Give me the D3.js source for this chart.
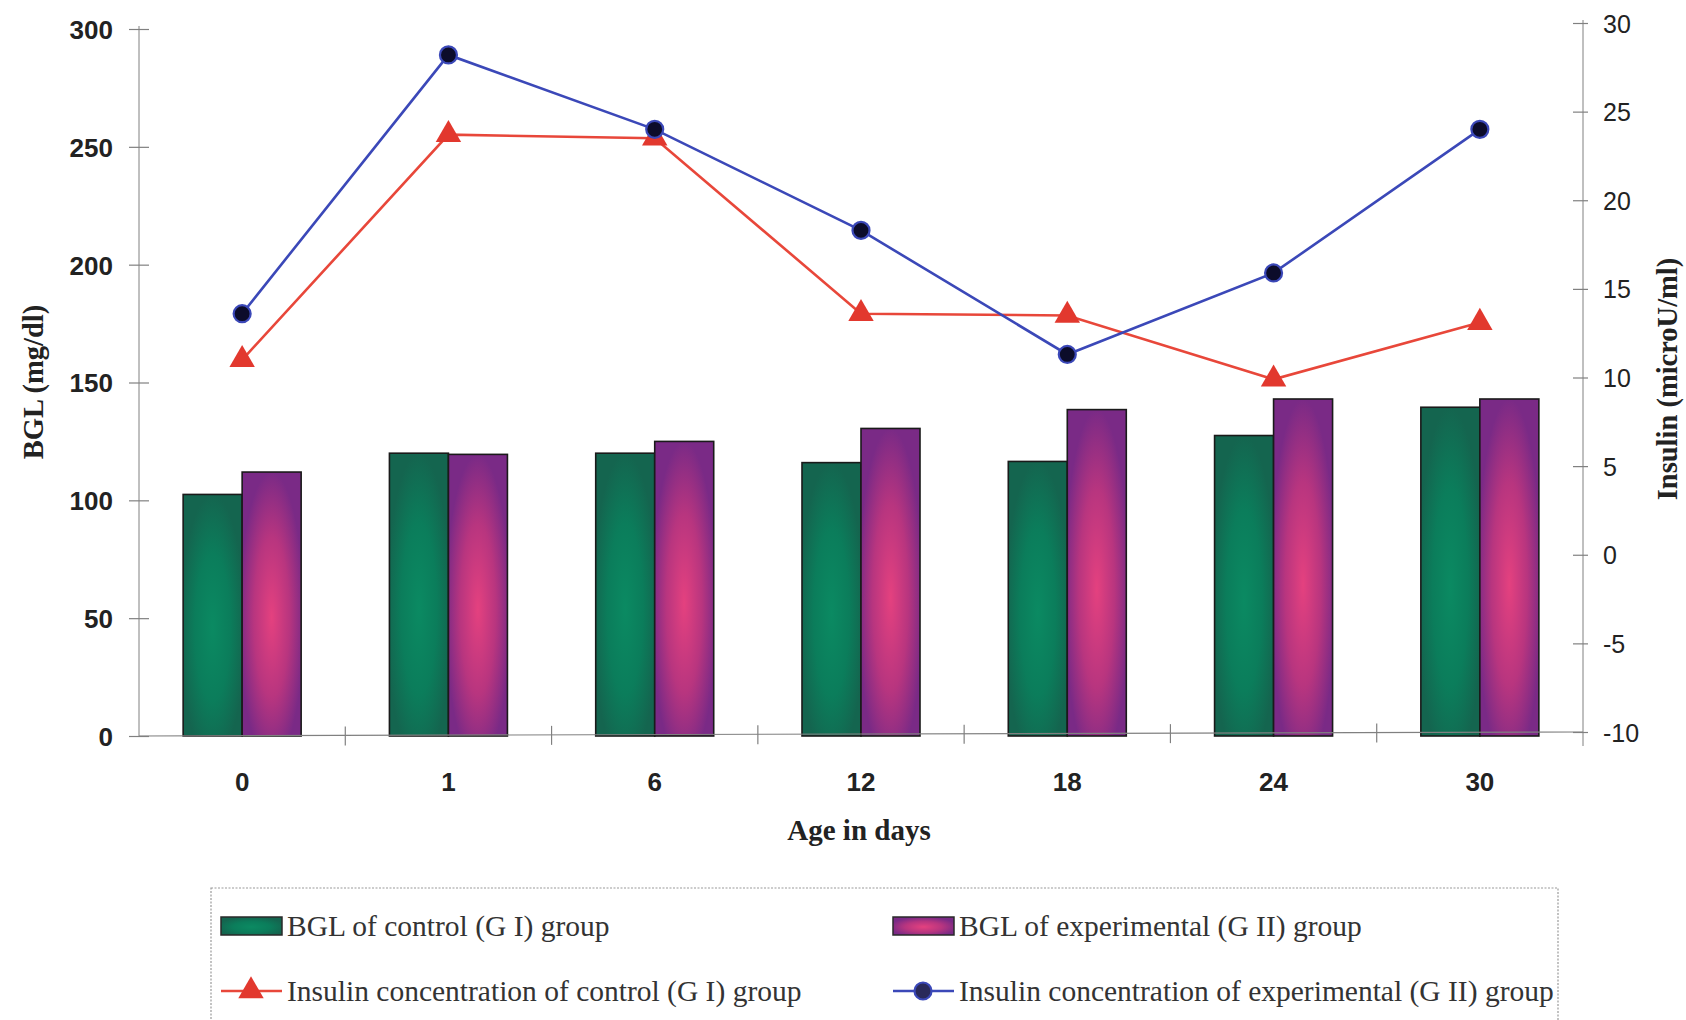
<!DOCTYPE html>
<html>
<head>
<meta charset="utf-8">
<script src="https://cdn.jsdelivr.net/npm/d3@7"></script>
<style>
  html, body { margin: 0; padding: 0; background: #ffffff; }
  svg { display: block; }
</style>
</head>
<body>
<script>
// ---- data ----
const categories = ["0", "1", "6", "12", "18", "24", "30"];
const bglControl = [102.5, 120, 120, 116, 116.5, 127.5, 139.5];
const bglExperimental = [112, 119.5, 125, 130.5, 138.5, 143, 143];
const insulinControl = [11, 23.7, 23.5, 13.6, 13.5, 9.9, 13.1];
const insulinExperimental = [13.6, 28.2, 24, 18.3, 11.3, 15.9, 24];
const leftTicks = [0, 50, 100, 150, 200, 250, 300];
const rightTicks = [-10, -5, 0, 5, 10, 15, 20, 25, 30];
const legendLabels = [
  "BGL of control (G I) group",
  "BGL of experimental (G II) group",
  "Insulin concentration of control (G I) group",
  "Insulin concentration of experimental (G II) group"
];

const W = 1686, H = 1020;
const xL = 139, xR = 1583, yB = 736, yT = 29, yBR = 732, yTR = 23;

const svg = d3.select("body").append("svg").attr("width", W).attr("height", H);

const defs = svg.append("defs");
function radial(id, inner, mid, outer) {
  const g = defs.append("radialGradient").attr("id", id)
    .attr("cx", 0.5).attr("cy", 0.55).attr("r", 0.55);
  g.append("stop").attr("offset", "0%").attr("stop-color", inner);
  g.append("stop").attr("offset", "55%").attr("stop-color", mid);
  g.append("stop").attr("offset", "100%").attr("stop-color", outer);
}
radial("gGreen", "#0b8a62", "#0b7d5b", "#14654f");
radial("gMag", "#e4417f", "#b8357f", "#7a2a86");

const x = d3.scaleBand().domain(categories).range([xL, xR]).padding(0);
const inner = d3.scaleBand().domain(["c", "e"]).range([x.bandwidth() / 2 - 59, x.bandwidth() / 2 + 59]).padding(0);
const yLeft = d3.scaleLinear().domain([0, 300]).range([yB, yT]);
const yRight = d3.scaleLinear().domain([-10, 30]).range([yBR, yTR]);

const axisColor = "#808080";

// bars
const groups = svg.append("g").selectAll("g").data(categories).join("g")
  .attr("transform", d => `translate(${x(d)},0)`);
groups.append("rect")
  .attr("x", inner("c")).attr("width", inner.bandwidth())
  .attr("y", (d, i) => yLeft(bglControl[i]))
  .attr("height", (d, i) => yLeft(0) - yLeft(bglControl[i]))
  .attr("fill", "url(#gGreen)").attr("stroke", "#1a1a1a").attr("stroke-width", 1.6);
groups.append("rect")
  .attr("x", inner("e")).attr("width", inner.bandwidth())
  .attr("y", (d, i) => yLeft(bglExperimental[i]))
  .attr("height", (d, i) => yLeft(0) - yLeft(bglExperimental[i]))
  .attr("fill", "url(#gMag)").attr("stroke", "#1a1a1a").attr("stroke-width", 1.6);

// left axis
const axL = svg.append("g").attr("transform", `translate(${xL},0)`)
  .call(d3.axisLeft(yLeft).tickValues(leftTicks).tickSize(10).tickPadding(16).tickFormat(d => String(d)));
axL.selectAll(".tick line").attr("x2", 10).attr("x1", -10);
axL.select(".domain").attr("stroke", axisColor).attr("d", `M0,${yT - 3}V${yB}`);
axL.selectAll("line").attr("stroke", axisColor).attr("stroke-width", 1.2);
axL.selectAll("text").attr("font-family", "'Liberation Sans', Arial, sans-serif")
  .attr("font-size", 26).attr("font-weight", "bold").attr("fill", "#222")
  .attr("x", -26).attr("dy", "0.36em");

// right axis
const axR = svg.append("g").attr("transform", `translate(${xR},0)`)
  .call(d3.axisRight(yRight).tickValues(rightTicks).tickSize(6).tickPadding(16).tickFormat(d => String(d)));
axR.selectAll(".tick line").attr("x1", -10).attr("x2", 5);
axR.select(".domain").attr("stroke", axisColor).attr("d", `M0,${yTR - 3}V${yBR + 14}`);
axR.selectAll("line").attr("stroke", axisColor).attr("stroke-width", 1.2);
axR.selectAll("text").attr("font-family", "'Liberation Sans', Arial, sans-serif")
  .attr("font-size", 25).attr("fill", "#222").attr("x", 20).attr("dy", "0.36em");

// x axis
svg.append("line").attr("x1", xL).attr("x2", xR).attr("y1", yB).attr("y2", yBR)
  .attr("stroke", axisColor).attr("stroke-width", 1.2);
const xAt = v => yB + (yBR - yB) * (v - xL) / (xR - xL);
svg.append("g").selectAll("line").data(categories.slice(1)).join("line")
  .attr("x1", d => x(d)).attr("x2", d => x(d))
  .attr("y1", d => xAt(x(d)) - 9).attr("y2", d => xAt(x(d)) + 10)
  .attr("stroke", axisColor).attr("stroke-width", 1.2);
svg.append("g").selectAll("text").data(categories).join("text")
  .attr("x", d => x(d) + x.bandwidth() / 2).attr("y", 791)
  .attr("text-anchor", "middle")
  .attr("font-family", "'Liberation Sans', Arial, sans-serif")
  .attr("font-size", 26).attr("font-weight", "bold").attr("fill", "#222")
  .text(d => d);

// axis titles
svg.append("text").attr("transform", `translate(43,382) rotate(-90)`)
  .attr("text-anchor", "middle")
  .attr("font-family", "'Liberation Serif', 'Times New Roman', serif")
  .attr("font-size", 28.5).attr("font-weight", "bold").attr("fill", "#222")
  .text("BGL (mg/dl)");
svg.append("text").attr("transform", `translate(1677,379) rotate(-90)`)
  .attr("text-anchor", "middle")
  .attr("font-family", "'Liberation Serif', 'Times New Roman', serif")
  .attr("font-size", 28.5).attr("font-weight", "bold").attr("fill", "#222")
  .text("Insulin (microU/ml)");
svg.append("text").attr("x", 859).attr("y", 840)
  .attr("text-anchor", "middle")
  .attr("font-family", "'Liberation Serif', 'Times New Roman', serif")
  .attr("font-size", 29).attr("font-weight", "bold").attr("fill", "#222")
  .text("Age in days");

// lines
const cx = d => x(d) + x.bandwidth() / 2;
const redCol = "#e8473a", blueCol = "#3b48b8";
const lineC = d3.line().x((d, i) => cx(categories[i])).y(d => yRight(d));
svg.append("path").datum(insulinControl).attr("d", lineC)
  .attr("fill", "none").attr("stroke", redCol).attr("stroke-width", 2.6);
svg.append("path").datum(insulinExperimental).attr("d", lineC)
  .attr("fill", "none").attr("stroke", blueCol).attr("stroke-width", 2.6);

const tri = d3.symbol().type(d3.symbolTriangle).size(280);
svg.append("g").selectAll("path").data(insulinControl).join("path")
  .attr("d", tri)
  .attr("transform", (d, i) => `translate(${cx(categories[i])},${yRight(d)})`)
  .attr("fill", "#e2382e");
svg.append("g").selectAll("circle").data(insulinExperimental).join("circle")
  .attr("cx", (d, i) => cx(categories[i])).attr("cy", d => yRight(d))
  .attr("r", 8.5).attr("fill", "#0c0c2a").attr("stroke", blueCol).attr("stroke-width", 2.2);

// legend
const lg = svg.append("g");
lg.append("rect").attr("x", 211).attr("y", 888).attr("width", 1347).attr("height", 150)
  .attr("fill", "none").attr("stroke", "#9a9a9a").attr("stroke-width", 1.2)
  .attr("stroke-dasharray", "2,1.5");
const legItems = [
  { x: 221, y: 926, type: "bar", fill: "url(#gGreen)" },
  { x: 893, y: 926, type: "bar", fill: "url(#gMag)" },
  { x: 221, y: 991, type: "tri" },
  { x: 893, y: 991, type: "circ" }
];
legItems.forEach((it, i) => {
  const g = lg.append("g").attr("transform", `translate(${it.x},${it.y})`);
  if (it.type === "bar") {
    g.append("rect").attr("x", 0).attr("y", -9).attr("width", 61).attr("height", 18)
      .attr("fill", it.fill).attr("stroke", "#2a2a2a").attr("stroke-width", 1.5);
  } else if (it.type === "tri") {
    g.append("line").attr("x1", 0).attr("x2", 61).attr("stroke", redCol).attr("stroke-width", 2.6);
    g.append("path").attr("d", tri).attr("transform", "translate(30,0)").attr("fill", "#e2382e");
  } else {
    g.append("line").attr("x1", 0).attr("x2", 61).attr("stroke", blueCol).attr("stroke-width", 2.6);
    g.append("circle").attr("cx", 30).attr("cy", 0).attr("r", 8.5)
      .attr("fill", "#2a2a5a").attr("stroke", blueCol).attr("stroke-width", 2.2);
  }
  g.append("text").attr("x", 66).attr("y", 0).attr("dy", "0.33em")
    .attr("font-family", "'Liberation Serif', 'Times New Roman', serif")
    .attr("font-size", 29.5).attr("fill", "#333")
    .text(legendLabels[i]);
});
</script>
</body>
</html>
